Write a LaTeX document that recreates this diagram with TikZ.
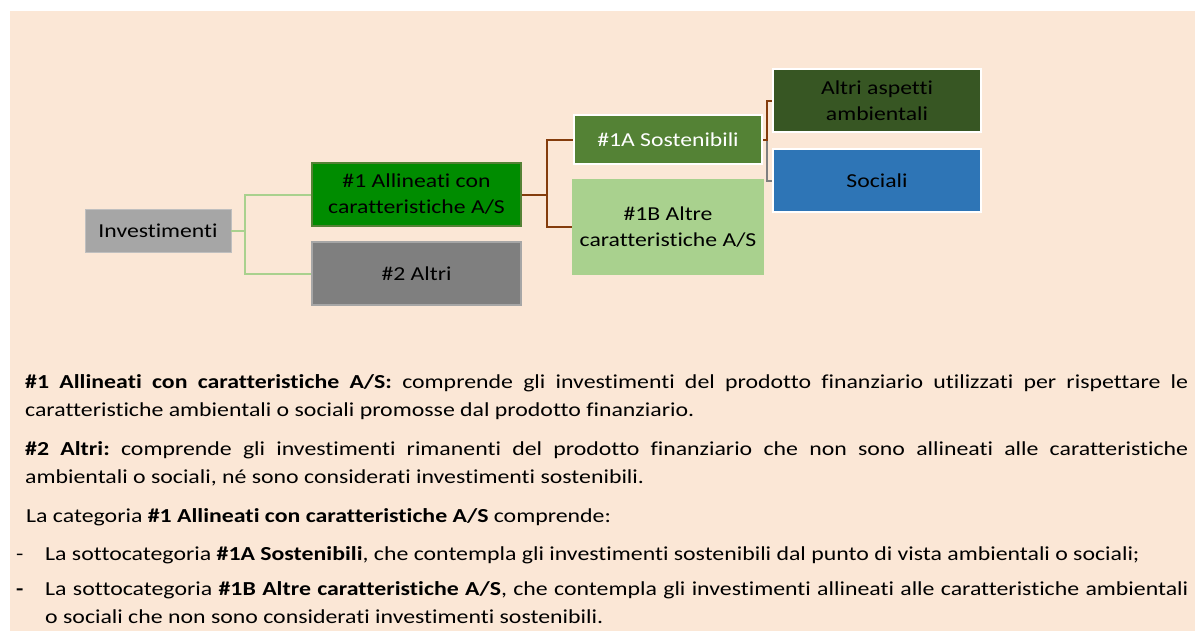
\documentclass[tikz,border=0pt]{standalone}
\usepackage{fontspec}
\setmainfont{Carlito}[FakeStretch=1.2, Ligatures=NoCommon]
\usepackage{xcolor}
\usepackage{tikz}
\definecolor{bgpeach}{HTML}{FBE7D6}
\definecolor{greyinv}{HTML}{A6A6A6}
\definecolor{greyedge}{HTML}{BFBFBF}
\definecolor{greenA}{HTML}{008C00}
\definecolor{olive}{HTML}{548235}
\definecolor{greyB}{HTML}{7F7F7F}
\definecolor{lightgreen}{HTML}{A9D18E}
\definecolor{darkgreen}{HTML}{375623}
\definecolor{socblue}{HTML}{2E75B6}
\definecolor{rust}{HTML}{843C0C}
\frenchspacing
\newcommand{\boxfont}{\fontsize{19.75}{26}\selectfont}
\newcommand{\bodyfont}{\fontsize{19.85}{28.5}\selectfont\frenchspacing}
\tikzset{
  box/.style={inner sep=0pt, align=center, font=\boxfont, text=black},
  boxInv/.style={box, fill=greyinv, draw=greyedge, line width=0.8pt, minimum width=146pt, minimum height=43pt},
  boxAl/.style={box, fill=greenA, draw=olive, line width=2pt, minimum width=209pt, minimum height=63pt},
  boxAlt/.style={box, fill=greyB, draw=greyinv, line width=2.5pt, minimum width=209pt, minimum height=63pt},
  boxSos/.style={box, fill=olive, draw=white, line width=2pt, minimum width=188pt, minimum height=49pt, text=white},
  boxAltre/.style={box, fill=lightgreen, minimum width=192pt, minimum height=96pt},
  boxSub/.style={box, draw=white, line width=2pt, minimum width=208pt, minimum height=63pt},
  linkG/.style={line width=2pt, draw=lightgreen},
  linkB/.style={line width=2pt, draw=rust},
  linkgrey/.style={line width=2pt, draw=greyB},
  para/.style={anchor=base west, inner sep=0pt, align=justify, font=\bodyfont, text=black},
  bullet/.style={anchor=base west, inner sep=0pt, font=\bodyfont, text=black}
}
\begin{document}
\begin{tikzpicture}[x=1pt,y=-1pt]
  \useasboundingbox (0,0) rectangle (1195,635);
  \fill[white] (0,0) rectangle (1195,635);
  \fill[bgpeach] (10,11) rectangle (1195,631);

  % boxes
  \node[boxInv] (inv) at (158,230.5) {Investimenti};
  \node[boxAl] (al1) at (416.5,194.5) {\#1 Allineati con\\caratteristiche A/S};
  \node[boxAlt] (alt2) at (416.5,273.5) {\#2 Altri};
  \node[boxSos] (sos) at (668,139.5) {\#1A Sostenibili};
  \node[boxAltre] (altre) at (668,227) {\#1B Altre\\caratteristiche A/S};
  \node[boxSub, fill=darkgreen] (amb) at (877,100.5) {Altri aspetti\\ambientali};
  \node[boxSub, fill=socblue] (soc) at (877,180.5) {Sociali};

  % connectors
  \coordinate (jG) at (245,230.5);
  \draw[linkG] (inv.east) -- (jG) |- (al1.west);
  \draw[linkG] (jG) |- (alt2.west);
  \coordinate (jB) at (547,194.5);
  \draw[linkB] (al1.east) -- (jB) |- (sos.west);
  \draw[linkB] (jB) |- (altre.west);
  \coordinate (jS) at (767,139.5);
  \draw[linkgrey] (jS) |- (soc.west);
  \draw[linkB] (sos.east) -- (jS) |- (amb.west);

  % text below
  \node[para, text width=1163pt] (p1) at (25,388) {\textbf{\#1 Allineati con caratteristiche A/S:} comprende gli investimenti del prodotto finanziario utilizzati per rispettare le\linebreak caratteristiche ambientali o sociali promosse dal prodotto finanziario.};
  \node[para, text width=1163pt] (p2) at (25,455) {\textbf{\#2 Altri:} comprende gli investimenti rimanenti del prodotto finanziario che non sono allineati alle caratteristiche\linebreak ambientali o sociali, né sono considerati investimenti sostenibili.};
  \node[para, text width=1162pt] (p3) at (26,522) {La categoria \textbf{\#1 Allineati con caratteristiche A/S} comprende:};
  \node[bullet] (d1) at (16,560) {-};
  \node[para, text width=1143pt] (i1) at (45,560) {La sottocategoria \textbf{\#1A Sostenibili}, che contempla gli investimenti sostenibili dal punto di vista ambientali o sociali;};
  \node[bullet] (d2) at (16,595) {\textbf{-}};
  \node[para, text width=1143pt] (i2) at (45,595) {La sottocategoria \textbf{\#1B Altre caratteristiche A/S}, che contempla gli investimenti allineati alle caratteristiche ambientali\linebreak o sociali che non sono considerati investimenti sostenibili.};
\end{tikzpicture}
\end{document}
